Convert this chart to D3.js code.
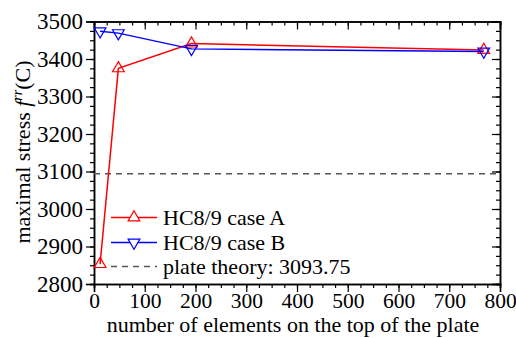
<html>
<head>
    <script src="https://d3js.org/d3.v7.min.js"></script>
</head>
<body style="margin:0">
    <svg id="svg" width="516" height="338"></svg>
    <script>
        // **** Data ****
        const elements = [12, 48, 192, 768]
        const caseA = [2853, 3375, 3441, 3424]
        const caseB = [3474, 3469, 3427, 3420]
        const plateTheory = 3093.75
        const xTicks = [0, 100, 200, 300, 400, 500, 600, 700, 800]
        const yTicks = [2800, 2900, 3000, 3100, 3200, 3300, 3400, 3500]
        const seriesNames = ['HC8/9 case A', 'HC8/9 case B', 'plate theory: 3093.75']

        const FONT = 'Liberation Serif'
        const m = {left: 94, right: 500, top: 21.5, bottom: 284}
        const x = d3.scaleLinear().domain([0, 800]).range([m.left, m.right])
        const y = d3.scaleLinear().domain([2800, 3500]).range([m.bottom, m.top])

        const svg = d3.select('#svg')
        const minorX = d3.range(0, 801, 25)
        const minorY = d3.range(2800, 3501, 25)

        // axes: outer ticks on left/bottom, inner ticks on top/right
        function styleAxis(size) {
            return (g) => {
                g.attr('font-family', FONT).attr('font-size', size)
                g.select('.domain').attr('stroke', '#000').attr('stroke-width', 1.5)
                g.selectAll('.tick line').attr('stroke', '#000').attr('stroke-width', 1.2)
                g.selectAll('text').attr('fill', '#000')
            }
        }
        svg.append('g').attr('transform', `translate(0,${m.bottom})`)
            .call(d3.axisBottom(x).tickValues(minorX).tickSize(4).tickFormat(''))
            .call(styleAxis(21.5))
        svg.append('g').attr('transform', `translate(0,${m.bottom})`)
            .call(d3.axisBottom(x).tickValues(xTicks).tickSize(8).tickPadding(1).tickFormat(d3.format('d')))
            .call(styleAxis(21.5))
        svg.append('g').attr('transform', `translate(${m.left},0)`)
            .call(d3.axisLeft(y).tickValues(minorY).tickSize(4).tickFormat(''))
            .call(styleAxis(23))
        svg.append('g').attr('transform', `translate(${m.left},0)`)
            .call(d3.axisLeft(y).tickValues(yTicks).tickSize(8).tickPadding(3).tickFormat(d3.format('d')))
            .call(styleAxis(23))
        svg.append('g').attr('transform', `translate(0,${m.top})`)
            .call(d3.axisBottom(x).tickValues(minorX).tickSize(4).tickFormat(''))
            .call(styleAxis(23))
        svg.append('g').attr('transform', `translate(0,${m.top})`)
            .call(d3.axisBottom(x).tickValues(xTicks).tickSize(8).tickFormat(''))
            .call(styleAxis(23))
        svg.append('g').attr('transform', `translate(${m.right},0)`)
            .call(d3.axisLeft(y).tickValues(minorY).tickSize(4).tickFormat(''))
            .call(styleAxis(23))
        svg.append('g').attr('transform', `translate(${m.right},0)`)
            .call(d3.axisLeft(y).tickValues(yTicks).tickSize(8).tickFormat(''))
            .call(styleAxis(23))

        // plate theory reference
        svg.append('line')
            .attr('x1', x(0)).attr('x2', x(800))
            .attr('y1', y(plateTheory)).attr('y2', y(plateTheory))
            .attr('stroke', '#555').attr('stroke-width', 1.5).attr('stroke-dasharray', '6,5')

        const tri = d3.symbol().type(d3.symbolTriangle).size(60)
        const series = [
            {vals: caseA, color: '#ff0000', rot: 0},
            {vals: caseB, color: '#0000ff', rot: 180}
        ]
        const line = d3.line().x((d) => x(d[0])).y((d) => y(d[1]))
        series.forEach((s) => {
            const pts = elements.map((e, i) => [e, s.vals[i]])
            svg.append('path').datum(pts).attr('d', line)
                .attr('fill', 'none').attr('stroke', s.color).attr('stroke-width', 1.5)
            svg.selectAll(null).data(pts).enter().append('path')
                .attr('d', tri)
                .attr('transform', (d) => `translate(${x(d[0])},${y(d[1])}) rotate(${s.rot})`)
                .attr('fill', 'none').attr('stroke', s.color).attr('stroke-width', 1.2)
        })

        // legend
        const legY = [217.5, 242.5, 266.5]
        seriesNames.forEach((name, i) => {
            const ly = legY[i]
            if (i < 2) {
                const s = series[i]
                svg.append('line').attr('x1', 111).attr('x2', 157).attr('y1', ly).attr('y2', ly)
                    .attr('stroke', s.color).attr('stroke-width', 1.5)
                svg.append('path').attr('d', tri)
                    .attr('transform', `translate(134,${ly}) rotate(${s.rot})`)
                    .attr('fill', '#fff').attr('stroke', s.color).attr('stroke-width', 1.2)
            } else {
                svg.append('line').attr('x1', 111).attr('x2', 157).attr('y1', ly).attr('y2', ly)
                    .attr('stroke', '#555').attr('stroke-width', 1.5).attr('stroke-dasharray', '6,5')
            }
            svg.append('text').attr('x', 163).attr('y', ly + 7)
                .attr('font-family', FONT).attr('font-size', 22).text(name)
        })

        // axis titles
        svg.append('text').attr('x', (m.left + m.right) / 2 - 4).attr('y', 332)
            .attr('font-family', FONT).attr('font-size', 22)
            .attr('text-anchor', 'middle')
            .text('number of elements on the top of the plate')
        const yl = svg.append('text')
            .attr('transform', 'translate(30,152) rotate(-90)')
            .attr('font-family', FONT).attr('font-size', 22)
            .attr('text-anchor', 'middle')
        yl.append('tspan').text('maximal stress ')
        yl.append('tspan').attr('font-style', 'italic').text('f')
        yl.append('tspan').attr('font-style', 'italic').attr('font-size', 14).attr('dy', -8).text('rr')
        yl.append('tspan').attr('dy', 8).text('(C)')
    </script>
</body>
</html>
